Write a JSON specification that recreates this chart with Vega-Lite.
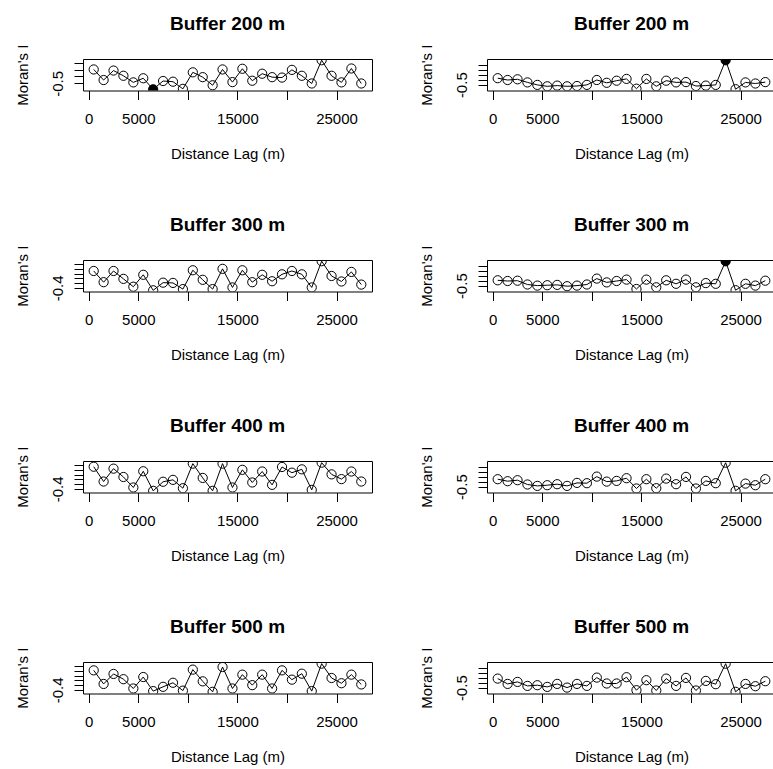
{
"$schema": "https://vega.github.io/schema/vega-lite/v6.json",
"padding": {"left": 14, "top": 14, "right": 0, "bottom": 0},
"datasets": {"moran": [
{"p":"L200","lag":500,"I":0.51,"sig":false},{"p":"L200","lag":1500,"I":-0.26,"sig":false},{"p":"L200","lag":2500,"I":0.43,"sig":false},{"p":"L200","lag":3500,"I":0.05,"sig":false},{"p":"L200","lag":4500,"I":-0.43,"sig":false},{"p":"L200","lag":5500,"I":-0.13,"sig":false},{"p":"L200","lag":6500,"I":-0.93,"sig":true},{"p":"L200","lag":7500,"I":-0.33,"sig":false},{"p":"L200","lag":8500,"I":-0.38,"sig":false},{"p":"L200","lag":9500,"I":-0.90,"sig":false},{"p":"L200","lag":10500,"I":0.30,"sig":false},{"p":"L200","lag":11500,"I":-0.05,"sig":false},{"p":"L200","lag":12500,"I":-0.64,"sig":false},{"p":"L200","lag":13500,"I":0.51,"sig":false},{"p":"L200","lag":14500,"I":-0.41,"sig":false},{"p":"L200","lag":15500,"I":0.56,"sig":false},{"p":"L200","lag":16500,"I":-0.31,"sig":false},{"p":"L200","lag":17500,"I":0.20,"sig":false},{"p":"L200","lag":18500,"I":-0.05,"sig":false},{"p":"L200","lag":19500,"I":-0.08,"sig":false},{"p":"L200","lag":20500,"I":0.48,"sig":false},{"p":"L200","lag":21500,"I":0.05,"sig":false},{"p":"L200","lag":22500,"I":-0.51,"sig":false},{"p":"L200","lag":23500,"I":1.18,"sig":false},{"p":"L200","lag":24500,"I":0.05,"sig":false},{"p":"L200","lag":25500,"I":-0.43,"sig":false},{"p":"L200","lag":26500,"I":0.58,"sig":false},{"p":"L200","lag":27500,"I":-0.51,"sig":false},
{"p":"R200","lag":500,"I":0.15,"sig":false},{"p":"R200","lag":1500,"I":-0.03,"sig":false},{"p":"R200","lag":2500,"I":0.04,"sig":false},{"p":"R200","lag":3500,"I":-0.27,"sig":false},{"p":"R200","lag":4500,"I":-0.52,"sig":false},{"p":"R200","lag":5500,"I":-0.66,"sig":false},{"p":"R200","lag":6500,"I":-0.59,"sig":false},{"p":"R200","lag":7500,"I":-0.66,"sig":false},{"p":"R200","lag":8500,"I":-0.63,"sig":false},{"p":"R200","lag":9500,"I":-0.52,"sig":false},{"p":"R200","lag":10500,"I":-0.03,"sig":false},{"p":"R200","lag":11500,"I":-0.31,"sig":false},{"p":"R200","lag":12500,"I":-0.10,"sig":false},{"p":"R200","lag":13500,"I":0.08,"sig":false},{"p":"R200","lag":14500,"I":-0.90,"sig":false},{"p":"R200","lag":15500,"I":0.08,"sig":false},{"p":"R200","lag":16500,"I":-0.66,"sig":false},{"p":"R200","lag":17500,"I":-0.10,"sig":false},{"p":"R200","lag":18500,"I":-0.27,"sig":false},{"p":"R200","lag":19500,"I":-0.24,"sig":false},{"p":"R200","lag":20500,"I":-0.63,"sig":false},{"p":"R200","lag":21500,"I":-0.59,"sig":false},{"p":"R200","lag":22500,"I":-0.52,"sig":false},{"p":"R200","lag":23500,"I":1.94,"sig":true},{"p":"R200","lag":24500,"I":-0.95,"sig":false},{"p":"R200","lag":25500,"I":-0.27,"sig":false},{"p":"R200","lag":26500,"I":-0.38,"sig":false},{"p":"R200","lag":27500,"I":-0.24,"sig":false},
{"p":"L300","lag":500,"I":0.31,"sig":false},{"p":"L300","lag":1500,"I":-0.16,"sig":false},{"p":"L300","lag":2500,"I":0.31,"sig":false},{"p":"L300","lag":3500,"I":-0.02,"sig":false},{"p":"L300","lag":4500,"I":-0.35,"sig":false},{"p":"L300","lag":5500,"I":0.15,"sig":false},{"p":"L300","lag":6500,"I":-0.50,"sig":false},{"p":"L300","lag":7500,"I":-0.18,"sig":false},{"p":"L300","lag":8500,"I":-0.19,"sig":false},{"p":"L300","lag":9500,"I":-0.45,"sig":false},{"p":"L300","lag":10500,"I":0.34,"sig":false},{"p":"L300","lag":11500,"I":-0.06,"sig":false},{"p":"L300","lag":12500,"I":-0.45,"sig":false},{"p":"L300","lag":13500,"I":0.40,"sig":false},{"p":"L300","lag":14500,"I":-0.38,"sig":false},{"p":"L300","lag":15500,"I":0.34,"sig":false},{"p":"L300","lag":16500,"I":-0.16,"sig":false},{"p":"L300","lag":17500,"I":0.15,"sig":false},{"p":"L300","lag":18500,"I":-0.12,"sig":false},{"p":"L300","lag":19500,"I":0.17,"sig":false},{"p":"L300","lag":20500,"I":0.31,"sig":false},{"p":"L300","lag":21500,"I":0.17,"sig":false},{"p":"L300","lag":22500,"I":-0.38,"sig":false},{"p":"L300","lag":23500,"I":0.72,"sig":false},{"p":"L300","lag":24500,"I":0.10,"sig":false},{"p":"L300","lag":25500,"I":-0.13,"sig":false},{"p":"L300","lag":26500,"I":0.27,"sig":false},{"p":"L300","lag":27500,"I":-0.26,"sig":false},
{"p":"R300","lag":500,"I":0.04,"sig":false},{"p":"R300","lag":1500,"I":-0.03,"sig":false},{"p":"R300","lag":2500,"I":0.00,"sig":false},{"p":"R300","lag":3500,"I":-0.38,"sig":false},{"p":"R300","lag":4500,"I":-0.49,"sig":false},{"p":"R300","lag":5500,"I":-0.45,"sig":false},{"p":"R300","lag":6500,"I":-0.42,"sig":false},{"p":"R300","lag":7500,"I":-0.55,"sig":false},{"p":"R300","lag":8500,"I":-0.49,"sig":false},{"p":"R300","lag":9500,"I":-0.38,"sig":false},{"p":"R300","lag":10500,"I":0.21,"sig":false},{"p":"R300","lag":11500,"I":-0.17,"sig":false},{"p":"R300","lag":12500,"I":-0.03,"sig":false},{"p":"R300","lag":13500,"I":0.11,"sig":false},{"p":"R300","lag":14500,"I":-0.83,"sig":false},{"p":"R300","lag":15500,"I":0.11,"sig":false},{"p":"R300","lag":16500,"I":-0.66,"sig":false},{"p":"R300","lag":17500,"I":0.04,"sig":false},{"p":"R300","lag":18500,"I":-0.31,"sig":false},{"p":"R300","lag":19500,"I":0.11,"sig":false},{"p":"R300","lag":20500,"I":-0.66,"sig":false},{"p":"R300","lag":21500,"I":-0.24,"sig":false},{"p":"R300","lag":22500,"I":-0.31,"sig":false},{"p":"R300","lag":23500,"I":1.94,"sig":true},{"p":"R300","lag":24500,"I":-0.95,"sig":false},{"p":"R300","lag":25500,"I":-0.31,"sig":false},{"p":"R300","lag":26500,"I":-0.49,"sig":false},{"p":"R300","lag":27500,"I":0.00,"sig":false},
{"p":"L400","lag":500,"I":0.53,"sig":false},{"p":"L400","lag":1500,"I":-0.09,"sig":false},{"p":"L400","lag":2500,"I":0.45,"sig":false},{"p":"L400","lag":3500,"I":0.10,"sig":false},{"p":"L400","lag":4500,"I":-0.34,"sig":false},{"p":"L400","lag":5500,"I":0.34,"sig":false},{"p":"L400","lag":6500,"I":-0.48,"sig":false},{"p":"L400","lag":7500,"I":-0.10,"sig":false},{"p":"L400","lag":8500,"I":-0.02,"sig":false},{"p":"L400","lag":9500,"I":-0.37,"sig":false},{"p":"L400","lag":10500,"I":0.66,"sig":false},{"p":"L400","lag":11500,"I":0.06,"sig":false},{"p":"L400","lag":12500,"I":-0.48,"sig":false},{"p":"L400","lag":13500,"I":0.66,"sig":false},{"p":"L400","lag":14500,"I":-0.34,"sig":false},{"p":"L400","lag":15500,"I":0.40,"sig":false},{"p":"L400","lag":16500,"I":-0.13,"sig":false},{"p":"L400","lag":17500,"I":0.33,"sig":false},{"p":"L400","lag":18500,"I":-0.23,"sig":false},{"p":"L400","lag":19500,"I":0.52,"sig":false},{"p":"L400","lag":20500,"I":0.28,"sig":false},{"p":"L400","lag":21500,"I":0.42,"sig":false},{"p":"L400","lag":22500,"I":-0.44,"sig":false},{"p":"L400","lag":23500,"I":0.70,"sig":false},{"p":"L400","lag":24500,"I":0.21,"sig":false},{"p":"L400","lag":25500,"I":0.01,"sig":false},{"p":"L400","lag":26500,"I":0.33,"sig":false},{"p":"L400","lag":27500,"I":-0.09,"sig":false},
{"p":"R400","lag":500,"I":0.25,"sig":false},{"p":"R400","lag":1500,"I":0.05,"sig":false},{"p":"R400","lag":2500,"I":0.15,"sig":false},{"p":"R400","lag":3500,"I":-0.28,"sig":false},{"p":"R400","lag":4500,"I":-0.42,"sig":false},{"p":"R400","lag":5500,"I":-0.35,"sig":false},{"p":"R400","lag":6500,"I":-0.25,"sig":false},{"p":"R400","lag":7500,"I":-0.42,"sig":false},{"p":"R400","lag":8500,"I":-0.12,"sig":false},{"p":"R400","lag":9500,"I":-0.15,"sig":false},{"p":"R400","lag":10500,"I":0.51,"sig":false},{"p":"R400","lag":11500,"I":0.01,"sig":false},{"p":"R400","lag":12500,"I":0.08,"sig":false},{"p":"R400","lag":13500,"I":0.35,"sig":false},{"p":"R400","lag":14500,"I":-0.68,"sig":false},{"p":"R400","lag":15500,"I":0.25,"sig":false},{"p":"R400","lag":16500,"I":-0.65,"sig":false},{"p":"R400","lag":17500,"I":0.31,"sig":false},{"p":"R400","lag":18500,"I":-0.25,"sig":false},{"p":"R400","lag":19500,"I":0.48,"sig":false},{"p":"R400","lag":20500,"I":-0.68,"sig":false},{"p":"R400","lag":21500,"I":0.08,"sig":false},{"p":"R400","lag":22500,"I":-0.15,"sig":false},{"p":"R400","lag":23500,"I":1.90,"sig":false},{"p":"R400","lag":24500,"I":-0.91,"sig":false},{"p":"R400","lag":25500,"I":-0.19,"sig":false},{"p":"R400","lag":26500,"I":-0.35,"sig":false},{"p":"R400","lag":27500,"I":0.25,"sig":false},
{"p":"L500","lag":500,"I":0.42,"sig":false},{"p":"L500","lag":1500,"I":-0.15,"sig":false},{"p":"L500","lag":2500,"I":0.27,"sig":false},{"p":"L500","lag":3500,"I":0.05,"sig":false},{"p":"L500","lag":4500,"I":-0.34,"sig":false},{"p":"L500","lag":5500,"I":0.14,"sig":false},{"p":"L500","lag":6500,"I":-0.45,"sig":false},{"p":"L500","lag":7500,"I":-0.27,"sig":false},{"p":"L500","lag":8500,"I":-0.10,"sig":false},{"p":"L500","lag":9500,"I":-0.43,"sig":false},{"p":"L500","lag":10500,"I":0.45,"sig":false},{"p":"L500","lag":11500,"I":-0.04,"sig":false},{"p":"L500","lag":12500,"I":-0.48,"sig":false},{"p":"L500","lag":13500,"I":0.56,"sig":false},{"p":"L500","lag":14500,"I":-0.34,"sig":false},{"p":"L500","lag":15500,"I":0.24,"sig":false},{"p":"L500","lag":16500,"I":-0.20,"sig":false},{"p":"L500","lag":17500,"I":0.24,"sig":false},{"p":"L500","lag":18500,"I":-0.34,"sig":false},{"p":"L500","lag":19500,"I":0.42,"sig":false},{"p":"L500","lag":20500,"I":0.03,"sig":false},{"p":"L500","lag":21500,"I":0.28,"sig":false},{"p":"L500","lag":22500,"I":-0.45,"sig":false},{"p":"L500","lag":23500,"I":0.70,"sig":false},{"p":"L500","lag":24500,"I":0.10,"sig":false},{"p":"L500","lag":25500,"I":-0.12,"sig":false},{"p":"L500","lag":26500,"I":0.24,"sig":false},{"p":"L500","lag":27500,"I":-0.17,"sig":false},
{"p":"R500","lag":500,"I":0.41,"sig":false},{"p":"R500","lag":1500,"I":-0.12,"sig":false},{"p":"R500","lag":2500,"I":0.08,"sig":false},{"p":"R500","lag":3500,"I":-0.32,"sig":false},{"p":"R500","lag":4500,"I":-0.25,"sig":false},{"p":"R500","lag":5500,"I":-0.42,"sig":false},{"p":"R500","lag":6500,"I":-0.12,"sig":false},{"p":"R500","lag":7500,"I":-0.49,"sig":false},{"p":"R500","lag":8500,"I":-0.12,"sig":false},{"p":"R500","lag":9500,"I":-0.32,"sig":false},{"p":"R500","lag":10500,"I":0.51,"sig":false},{"p":"R500","lag":11500,"I":-0.08,"sig":false},{"p":"R500","lag":12500,"I":-0.08,"sig":false},{"p":"R500","lag":13500,"I":0.55,"sig":false},{"p":"R500","lag":14500,"I":-0.75,"sig":false},{"p":"R500","lag":15500,"I":0.25,"sig":false},{"p":"R500","lag":16500,"I":-0.78,"sig":false},{"p":"R500","lag":17500,"I":0.41,"sig":false},{"p":"R500","lag":18500,"I":-0.32,"sig":false},{"p":"R500","lag":19500,"I":0.48,"sig":false},{"p":"R500","lag":20500,"I":-0.78,"sig":false},{"p":"R500","lag":21500,"I":0.18,"sig":false},{"p":"R500","lag":22500,"I":-0.15,"sig":false},{"p":"R500","lag":23500,"I":1.90,"sig":false},{"p":"R500","lag":24500,"I":-0.91,"sig":false},{"p":"R500","lag":25500,"I":-0.12,"sig":false},{"p":"R500","lag":26500,"I":-0.35,"sig":false},{"p":"R500","lag":27500,"I":0.15,"sig":false}
]},
"data": {"name": "moran"},
"columns": 2,
"spacing": {"row": 53, "column": 45},
"concat": [
{"title": {"text": "Buffer 200 m"}, "width": 289, "height": 31.5,
 "transform": [{"filter": "datum.p == 'L200'"}],
 "encoding": {
  "x": {"field": "lag", "type": "quantitative", "scale": {"domain": [-580, 28580], "nice": false, "zero": false}, "axis": {"title": "Distance Lag (m)", "values": [0,5000,10000,15000,20000,25000], "labelExpr": "datum.value == 10000 || datum.value == 20000 ? '' : format(datum.value, 'd')"}},
  "y": {"field": "I", "type": "quantitative", "scale": {"domain": [-1.02, 1.27], "nice": false, "zero": false}, "axis": {"title": "Moran's I", "values": [-0.5,0,0.5,1], "labelExpr": "datum.value == -0.5 ? '-0.5' : ''"}}},
 "layer": [
  {"mark": {"type": "line", "color": "black", "strokeWidth": 1, "clip": true}},
  {"mark": {"type": "point", "shape": "circle", "size": 85, "stroke": "black", "strokeWidth": 1, "opacity": 1, "clip": true}, "encoding": {"fill": {"condition": {"test": "datum.sig", "value": "black"}, "value": "transparent"}}}]},
{"title": {"text": "Buffer 200 m"}, "width": 289, "height": 31.5,
 "transform": [{"filter": "datum.p == 'R200'"}],
 "encoding": {
  "x": {"field": "lag", "type": "quantitative", "scale": {"domain": [-580, 28580], "nice": false, "zero": false}, "axis": {"title": "Distance Lag (m)", "values": [0,5000,10000,15000,20000,25000], "labelExpr": "datum.value == 10000 || datum.value == 20000 ? '' : format(datum.value, 'd')"}},
  "y": {"field": "I", "type": "quantitative", "scale": {"domain": [-1.08, 2.07], "nice": false, "zero": false}, "axis": {"title": "Moran's I", "values": [-0.5,0,0.5,1,1.5], "labelExpr": "datum.value == -0.5 ? '-0.5' : ''"}}},
 "layer": [
  {"mark": {"type": "line", "color": "black", "strokeWidth": 1, "clip": true}},
  {"mark": {"type": "point", "shape": "circle", "size": 85, "stroke": "black", "strokeWidth": 1, "opacity": 1, "clip": true}, "encoding": {"fill": {"condition": {"test": "datum.sig", "value": "black"}, "value": "transparent"}}}]},
{"title": {"text": "Buffer 300 m"}, "width": 289, "height": 31.5,
 "transform": [{"filter": "datum.p == 'L300'"}],
 "encoding": {
  "x": {"field": "lag", "type": "quantitative", "scale": {"domain": [-580, 28580], "nice": false, "zero": false}, "axis": {"title": "Distance Lag (m)", "values": [0,5000,10000,15000,20000,25000], "labelExpr": "datum.value == 10000 || datum.value == 20000 ? '' : format(datum.value, 'd')"}},
  "y": {"field": "I", "type": "quantitative", "scale": {"domain": [-0.55, 0.77], "nice": false, "zero": false}, "axis": {"title": "Moran's I", "values": [-0.4,-0.2,0,0.2,0.4,0.6], "labelExpr": "datum.value == -0.4 ? '-0.4' : ''"}}},
 "layer": [
  {"mark": {"type": "line", "color": "black", "strokeWidth": 1, "clip": true}},
  {"mark": {"type": "point", "shape": "circle", "size": 85, "stroke": "black", "strokeWidth": 1, "opacity": 1, "clip": true}, "encoding": {"fill": {"condition": {"test": "datum.sig", "value": "black"}, "value": "transparent"}}}]},
{"title": {"text": "Buffer 300 m"}, "width": 289, "height": 31.5,
 "transform": [{"filter": "datum.p == 'R300'"}],
 "encoding": {
  "x": {"field": "lag", "type": "quantitative", "scale": {"domain": [-580, 28580], "nice": false, "zero": false}, "axis": {"title": "Distance Lag (m)", "values": [0,5000,10000,15000,20000,25000], "labelExpr": "datum.value == 10000 || datum.value == 20000 ? '' : format(datum.value, 'd')"}},
  "y": {"field": "I", "type": "quantitative", "scale": {"domain": [-1.08, 2.07], "nice": false, "zero": false}, "axis": {"title": "Moran's I", "values": [-0.5,0,0.5,1,1.5], "labelExpr": "datum.value == -0.5 ? '-0.5' : ''"}}},
 "layer": [
  {"mark": {"type": "line", "color": "black", "strokeWidth": 1, "clip": true}},
  {"mark": {"type": "point", "shape": "circle", "size": 85, "stroke": "black", "strokeWidth": 1, "opacity": 1, "clip": true}, "encoding": {"fill": {"condition": {"test": "datum.sig", "value": "black"}, "value": "transparent"}}}]},
{"title": {"text": "Buffer 400 m"}, "width": 289, "height": 31.5,
 "transform": [{"filter": "datum.p == 'L400'"}],
 "encoding": {
  "x": {"field": "lag", "type": "quantitative", "scale": {"domain": [-580, 28580], "nice": false, "zero": false}, "axis": {"title": "Distance Lag (m)", "values": [0,5000,10000,15000,20000,25000], "labelExpr": "datum.value == 10000 || datum.value == 20000 ? '' : format(datum.value, 'd')"}},
  "y": {"field": "I", "type": "quantitative", "scale": {"domain": [-0.55, 0.77], "nice": false, "zero": false}, "axis": {"title": "Moran's I", "values": [-0.4,-0.2,0,0.2,0.4,0.6], "labelExpr": "datum.value == -0.4 ? '-0.4' : ''"}}},
 "layer": [
  {"mark": {"type": "line", "color": "black", "strokeWidth": 1, "clip": true}},
  {"mark": {"type": "point", "shape": "circle", "size": 85, "stroke": "black", "strokeWidth": 1, "opacity": 1, "clip": true}, "encoding": {"fill": {"condition": {"test": "datum.sig", "value": "black"}, "value": "transparent"}}}]},
{"title": {"text": "Buffer 400 m"}, "width": 289, "height": 31.5,
 "transform": [{"filter": "datum.p == 'R400'"}],
 "encoding": {
  "x": {"field": "lag", "type": "quantitative", "scale": {"domain": [-580, 28580], "nice": false, "zero": false}, "axis": {"title": "Distance Lag (m)", "values": [0,5000,10000,15000,20000,25000], "labelExpr": "datum.value == 10000 || datum.value == 20000 ? '' : format(datum.value, 'd')"}},
  "y": {"field": "I", "type": "quantitative", "scale": {"domain": [-1.08, 2.07], "nice": false, "zero": false}, "axis": {"title": "Moran's I", "values": [-0.5,0,0.5,1,1.5], "labelExpr": "datum.value == -0.5 ? '-0.5' : ''"}}},
 "layer": [
  {"mark": {"type": "line", "color": "black", "strokeWidth": 1, "clip": true}},
  {"mark": {"type": "point", "shape": "circle", "size": 85, "stroke": "black", "strokeWidth": 1, "opacity": 1, "clip": true}, "encoding": {"fill": {"condition": {"test": "datum.sig", "value": "black"}, "value": "transparent"}}}]},
{"title": {"text": "Buffer 500 m"}, "width": 289, "height": 31.5,
 "transform": [{"filter": "datum.p == 'L500'"}],
 "encoding": {
  "x": {"field": "lag", "type": "quantitative", "scale": {"domain": [-580, 28580], "nice": false, "zero": false}, "axis": {"title": "Distance Lag (m)", "values": [0,5000,10000,15000,20000,25000], "labelExpr": "datum.value == 10000 || datum.value == 20000 ? '' : format(datum.value, 'd')"}},
  "y": {"field": "I", "type": "quantitative", "scale": {"domain": [-0.55, 0.77], "nice": false, "zero": false}, "axis": {"title": "Moran's I", "values": [-0.4,-0.2,0,0.2,0.4,0.6], "labelExpr": "datum.value == -0.4 ? '-0.4' : ''"}}},
 "layer": [
  {"mark": {"type": "line", "color": "black", "strokeWidth": 1, "clip": true}},
  {"mark": {"type": "point", "shape": "circle", "size": 85, "stroke": "black", "strokeWidth": 1, "opacity": 1, "clip": true}, "encoding": {"fill": {"condition": {"test": "datum.sig", "value": "black"}, "value": "transparent"}}}]},
{"title": {"text": "Buffer 500 m"}, "width": 289, "height": 31.5,
 "transform": [{"filter": "datum.p == 'R500'"}],
 "encoding": {
  "x": {"field": "lag", "type": "quantitative", "scale": {"domain": [-580, 28580], "nice": false, "zero": false}, "axis": {"title": "Distance Lag (m)", "values": [0,5000,10000,15000,20000,25000], "labelExpr": "datum.value == 10000 || datum.value == 20000 ? '' : format(datum.value, 'd')"}},
  "y": {"field": "I", "type": "quantitative", "scale": {"domain": [-1.08, 2.07], "nice": false, "zero": false}, "axis": {"title": "Moran's I", "values": [-0.5,0,0.5,1,1.5], "labelExpr": "datum.value == -0.5 ? '-0.5' : ''"}}},
 "layer": [
  {"mark": {"type": "line", "color": "black", "strokeWidth": 1, "clip": true}},
  {"mark": {"type": "point", "shape": "circle", "size": 85, "stroke": "black", "strokeWidth": 1, "opacity": 1, "clip": true}, "encoding": {"fill": {"condition": {"test": "datum.sig", "value": "black"}, "value": "transparent"}}}]}
],
"config": {
 "background": "white",
 "view": {"stroke": "black", "strokeWidth": 1},
 "axis": {"domain": false, "grid": false, "ticks": true, "tickColor": "black", "tickSize": 9, "tickWidth": 1, "labelFont": "Liberation Sans", "labelFontSize": 15, "labelColor": "black", "titleFont": "Liberation Sans", "titleFontSize": 15, "titleFontWeight": "normal", "titleColor": "black", "labelOverlap": false},
 "axisX": {"labelPadding": 12, "titlePadding": 20, "labelAngle": 0, "labelFlush": false},
 "axisY": {"labelAngle": -90, "labelAlign": "center", "labelBaseline": "bottom", "labelPadding": 9, "titlePadding": 20},
 "title": {"font": "Liberation Sans", "fontSize": 19, "fontWeight": "bold", "color": "black", "anchor": "middle", "frame": "group", "offset": 10}
}
}
